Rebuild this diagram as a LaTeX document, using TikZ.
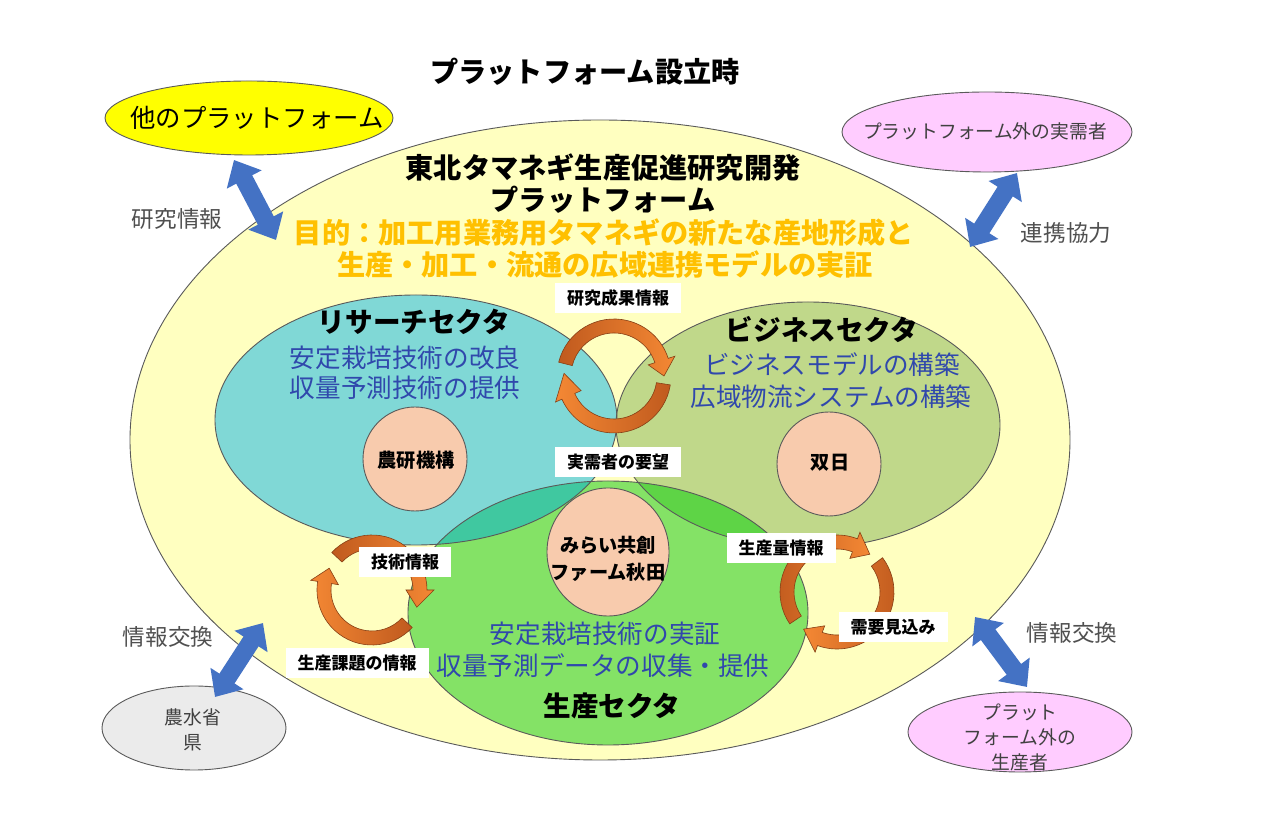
\documentclass[tikz,border=0pt]{standalone}
\usepackage{fontspec}
\setmainfont{Noto Sans CJK JP}
\usetikzlibrary{calc,arrows.meta}
\definecolor{bigyellow}{RGB}{255,255,192}
\definecolor{platyellow}{RGB}{255,255,0}
\definecolor{pinkfill}{RGB}{255,204,255}
\definecolor{grayfill}{RGB}{235,235,235}
\definecolor{researchfill}{RGB}{128,216,214}
\definecolor{businessfill}{RGB}{192,216,138}
\definecolor{prodfill}{RGB}{132,226,102}
\definecolor{rpfill}{RGB}{64,200,160}
\definecolor{bpfill}{RGB}{94,212,70}
\definecolor{salmon}{RGB}{248,203,173}
\definecolor{goalorange}{RGB}{255,192,0}
\definecolor{txtblue}{RGB}{48,72,172}
\definecolor{txtgray}{RGB}{80,80,80}
\definecolor{arrowblue}{RGB}{68,114,196}
\definecolor{adark}{RGB}{192,90,30}
\definecolor{aorange}{RGB}{244,136,52}
\definecolor{edge}{RGB}{90,90,90}

% circular block arrow: #1 centre, #2 radius, #3 tail angle, #4 tip angle, #5 head angular length (signed), #6 shading
\newcommand{\carr}[6]{%
  \pgfmathsetmacro\carRo{#2+7}\pgfmathsetmacro\carRi{#2-7}%
  \pgfmathsetmacro\carHo{#2+14}\pgfmathsetmacro\carHi{#2-14}%
  \pgfmathsetmacro\carAb{#4-#5}%
  \shadedraw[#6, draw=adark!70!black, line width=0.3pt]
    ($(#1)+(#3:\carRo)$) arc[start angle=#3, end angle=\carAb, radius=\carRo]
    -- ($(#1)+(\carAb:\carHo)$) -- ($(#1)+(#4:#2)$) -- ($(#1)+(\carAb:\carHi)$)
    -- ($(#1)+(\carAb:\carRi)$) arc[start angle=\carAb, end angle=#3, radius=\carRi] -- cycle;}

\begin{document}
\begin{tikzpicture}[x=0.5pt,y=-0.5pt,
  every node/.style={inner sep=0pt},
  bluearrow/.style={draw=arrowblue, line width=9pt, >={Triangle[width=19pt,length=11pt]}, <->},
  shapeline/.style={draw=edge, line width=0.45pt},
  lbl/.style={fill=white, inner xsep=6pt, minimum height=15pt, font=\fontsize{8.5pt}{10pt}\selectfont\bfseries},
  ttl/.style={font=\fontsize{14.1pt}{17pt}\selectfont\bfseries},
  goal/.style={text=goalorange, font=\fontsize{14.1pt}{17pt}\selectfont\bfseries},
  sect/.style={font=\fontsize{13.8pt}{16pt}\selectfont\bfseries},
  task/.style={text=txtblue, font=\fontsize{12.8pt}{15pt}\selectfont},
  ext/.style={text=txtgray, font=\fontsize{11.3pt}{14pt}\selectfont},
  org/.style={font=\fontsize{9.6pt}{13.5pt}\selectfont\bfseries, align=center},
  outer/.style={text=black!75, font=\fontsize{9.4pt}{12.5pt}\selectfont, align=center}]

\fill[white] (0,0) rectangle (1281,822);
\useasboundingbox (0,0) rectangle (1281,822);

% platform ellipse
\filldraw[fill=bigyellow, shapeline] (600,440) ellipse[x radius=470, y radius=320];

% outside partners
\filldraw[fill=platyellow, shapeline] (249,118) ellipse[x radius=144, y radius=37];
\filldraw[fill=pinkfill, shapeline] (987,132) ellipse[x radius=145, y radius=40];
\filldraw[fill=grayfill, shapeline] (194,728) ellipse[x radius=92, y radius=42];
\filldraw[fill=pinkfill, shapeline] (1020,732) ellipse[x radius=112, y radius=40];

\node[font=\fontsize{12.7pt}{15pt}\selectfont] (other) at (257,118) {他のプラットフォーム};
\node[outer] (userout) at (985,131) {プラットフォーム外の実需者};
\node[outer] (gov) at (193,730) {農水省\\県};
\node[outer] (prodout) at (1020,737) {プラット\\フォーム外の\\生産者};

% blue double arrows
\coordinate (tlA) at (234,160); \coordinate (tlB) at (276,240);
\coordinate (trA) at (1017,173); \coordinate (trB) at (970,247);
\coordinate (blA) at (263,623); \coordinate (blB) at (215,697);
\coordinate (brA) at (975,617); \coordinate (brB) at (1027,687);
\draw[bluearrow] (tlA) -- (tlB);
\draw[bluearrow] (trA) -- (trB);
\draw[bluearrow] (blA) -- (blB);
\draw[bluearrow] (brA) -- (brB);

\node[ext] (l1) at (177,219) {研究情報};
\node[ext] (l2) at (1066,233) {連携協力};
\node[ext] (l3) at (168,637) {情報交換};
\node[ext] (l4) at (1072,633) {情報交換};

% sectors
\fill[researchfill] (416,420) ellipse[x radius=201, y radius=125];
\fill[businessfill] (808,425) ellipse[x radius=192, y radius=123];
\fill[prodfill] (608,613) ellipse[x radius=200, y radius=132];
\begin{scope}
  \clip (416,420) ellipse[x radius=201, y radius=125];
  \fill[rpfill] (608,613) ellipse[x radius=200, y radius=132];
\end{scope}
\begin{scope}
  \clip (808,425) ellipse[x radius=192, y radius=123];
  \fill[bpfill] (608,613) ellipse[x radius=200, y radius=132];
\end{scope}
\draw[shapeline] (416,420) ellipse[x radius=201, y radius=125];
\draw[shapeline] (808,425) ellipse[x radius=192, y radius=123];
\draw[shapeline] (608,613) ellipse[x radius=200, y radius=132];

% organisations
\filldraw[fill=salmon, shapeline] (415,459) circle[radius=52];
\filldraw[fill=salmon, shapeline] (829,464) circle[radius=52];
\filldraw[fill=salmon, shapeline] (608,552) ellipse[x radius=61, y radius=64];
\node[org] (naro) at (416,460) {農研機構};
\node[org] (sojitz) at (830,463) {双日};
\node[org] (mirai) at (608,559) {みらい共創\\ファーム秋田};

% headings
\node[ttl] (title) at (585,72) {プラットフォーム設立時};
\node[ttl] (pf1) at (603,168) {東北タマネギ生産促進研究開発};
\node[ttl] (pf2) at (603,200) {プラットフォーム};
\node[goal] (g1) at (604,233) {目的：加工用業務用タマネギの新たな産地形成と};
\node[goal] (g2) at (605,265) {生産・加工・流通の広域連携モデルの実証};

\node[sect] (rs) at (414,322) {リサーチセクタ};
\node[task] (rs1) at (405,358) {安定栽培技術の改良};
\node[task] (rs2) at (405,388) {収量予測技術の提供};
\node[sect] (bs) at (822,330) {ビジネスセクタ};
\node[task] (bs1) at (832,365) {ビジネスモデルの構築};
\node[task] (bs2) at (831,397) {広域物流システムの構築};
\node[sect] (ps) at (612,706) {生産セクタ};
\node[task] (ps1) at (605,634) {安定栽培技術の実証};
\node[task] (ps2) at (603,666) {収量予測データの収集・提供};

% circular arrows
\coordinate (cyc1) at (614,376);
\coordinate (cyc2) at (372,590);
\coordinate (cyc3) at (837,592);
\carr{cyc1}{50}{-166}{0}{18}{left color=adark, right color=aorange}
\carr{cyc1}{50}{9}{183}{27}{left color=aorange, right color=adark}
\carr{cyc2}{48}{-137}{21}{21}{left color=adark, right color=aorange}
\carr{cyc2}{48}{43}{207}{18}{left color=aorange, right color=adark}
\carr{cyc3}{50}{146}{311}{20}{left color=adark, right color=aorange}
\carr{cyc3}{50}{-37}{132}{22}{left color=aorange, right color=adark}

% flow labels
\node[lbl] (res) at (618,298) {研究成果情報};
\node[lbl] (req) at (618,462) {実需者の要望};
\node[lbl] (tech) at (405,562) {技術情報};
\node[lbl] (issue) at (357,663) {生産課題の情報};
\node[lbl] (vol) at (781,548) {生産量情報};
\node[lbl] (dem) at (893,627) {需要見込み};
\end{tikzpicture}
\end{document}
